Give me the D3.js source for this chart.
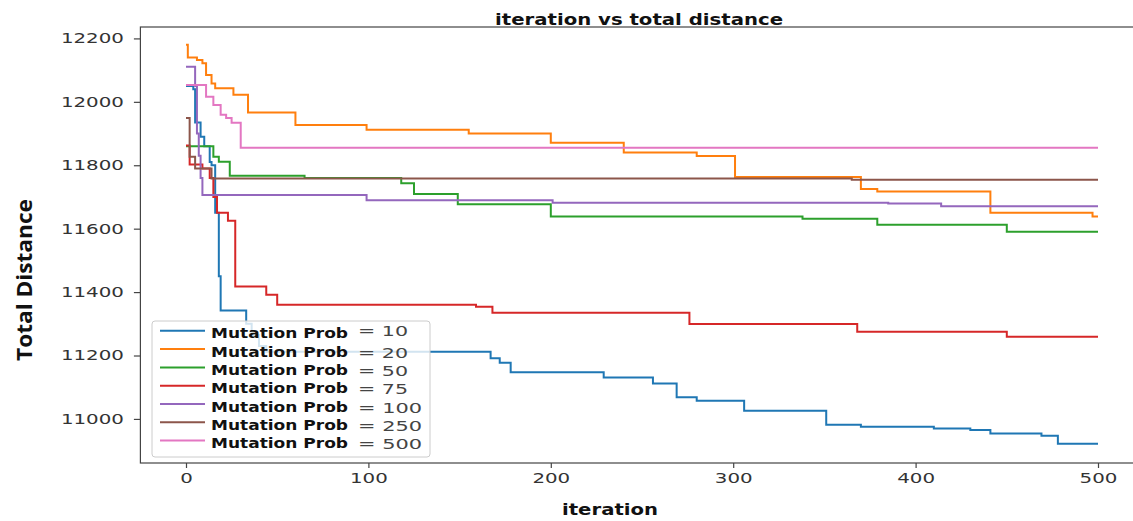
<!DOCTYPE html>
<html>
<head>
<meta charset="utf-8">
<script src="https://cdn.jsdelivr.net/npm/d3@7/dist/d3.min.js"></script>
<style>
  body { margin: 0; background: #fff; }
</style>
</head>
<body>
<svg id="chart" width="1133" height="521"></svg>
<script>
// series data: [iteration, best total distance]
const probs = ["10", "20", "50", "75", "100", "250", "500"];
const seriesColors = ["#1f77b4", "#ff7f0e", "#2ca02c", "#d62728", "#9467bd", "#8c564b", "#e377c2"];

const prob10 = [[0, 12050], [4, 12040], [5, 11935], [8, 11890], [10, 11860], [13, 11810], [14, 11800], [16, 11650],
  [18, 11450], [19, 11342], [33, 11300], [36, 11265], [40, 11230], [44, 11212], [167, 11191], [172, 11177],
  [178, 11147], [229, 11131], [256, 11112], [269, 11068], [280, 11057], [306, 11026], [351, 10982], [370, 10975],
  [410, 10970], [430, 10965], [441, 10954], [469, 10947], [478, 10922], [500, 10922]];
const prob20 = [[0, 12180], [1, 12140], [6, 12132], [9, 12122], [11, 12085], [14, 12058], [16, 12043], [26, 12022],
  [34, 11966], [60, 11927], [99, 11912], [155, 11900], [200, 11871], [240, 11840], [280, 11829], [301, 11763],
  [370, 11725], [379, 11717], [441, 11650], [497, 11638], [500, 11638]];
const prob50 = [[0, 11860], [15, 11827], [18, 11811], [24, 11767], [65, 11760], [118, 11743], [125, 11709],
  [149, 11677], [200, 11638], [338, 11631], [379, 11612], [450, 11590], [500, 11590]];
const prob75 = [[0, 11862], [2, 11802], [9, 11790], [13, 11760], [15, 11700], [17, 11650], [23, 11625], [27, 11418],
  [44, 11392], [50, 11360], [159, 11354], [168, 11335], [276, 11299], [368, 11275], [450, 11259], [500, 11259]];
const prob100 = [[0, 12111], [5, 12050], [6, 11900], [7, 11830], [8, 11760], [9, 11706], [99, 11690], [201, 11682],
  [385, 11679], [414, 11671], [500, 11671]];
const prob250 = [[0, 11949], [2, 11827], [5, 11790], [14, 11758], [365, 11754], [500, 11754]];
const prob500 = [[0, 12053], [11, 12016], [15, 11990], [19, 11959], [22, 11949], [25, 11934], [30, 11855], [500, 11855]];

const allSeries = [prob10, prob20, prob50, prob75, prob100, prob250, prob500];

const xTicks = [0, 100, 200, 300, 400, 500];
const yTicks = [11000, 11200, 11400, 11600, 11800, 12000, 12200];

const svg = d3.select("#chart");
const plot = { left: 140.4, right: 1143.6, top: 27, bottom: 463 };

const x = d3.scaleLinear().domain([-25, 525]).range([plot.left, plot.right]);
const y = d3.scaleLinear().domain([10861, 12236]).range([plot.bottom, plot.top]);

// lines
const line = d3.line()
  .x(d => x(d[0]))
  .y(d => y(d[1]))
  .curve(d3.curveStepAfter);

allSeries.forEach((s, i) => {
  svg.append("path")
    .datum(s)
    .attr("fill", "none")
    .attr("stroke", seriesColors[i])
    .attr("stroke-width", 2)
    .attr("d", line);
});

// axes
const yAxis = svg.append("g")
  .attr("transform", `translate(${plot.left},0)`)
  .call(d3.axisLeft(y).tickValues(yTicks).tickFormat(d3.format("d")).tickSize(6.5).tickPadding(10));

const xAxis = svg.append("g")
  .attr("transform", `translate(0,${plot.bottom})`)
  .call(d3.axisBottom(x).tickValues(xTicks).tickFormat(d3.format("d")).tickSize(5).tickPadding(5));

[xAxis, yAxis].forEach(g => {
  g.select(".domain").remove();
  g.selectAll(".tick line").attr("stroke", "#444").attr("stroke-width", 1.2);
  g.selectAll(".tick text")
    .attr("fill", "#333")
    .style("font-family", "'DejaVu Sans', sans-serif")
    .style("font-size", "14px")
    .attr("textLength", d => String(d).length * 12.6)
    .attr("lengthAdjust", "spacingAndGlyphs");
});

// frame
svg.append("rect")
  .attr("x", plot.left)
  .attr("y", plot.top)
  .attr("width", plot.right - plot.left)
  .attr("height", plot.bottom - plot.top)
  .attr("fill", "none")
  .attr("stroke", "#444")
  .attr("stroke-width", 1.2);

// legend
const legend = svg.append("g").attr("transform", "translate(152,321)");
legend.append("rect")
  .attr("width", 278)
  .attr("height", 136)
  .attr("rx", 3)
  .attr("fill", "#fff")
  .attr("fill-opacity", 0.8)
  .attr("stroke", "#ccc");

probs.forEach((p, i) => {
  const yy = 17.3 + i * 18.3;
  legend.append("line")
    .attr("x1", 8).attr("x2", 53)
    .attr("y1", yy - 7.5).attr("y2", yy - 7.5)
    .attr("stroke", seriesColors[i])
    .attr("stroke-width", 2);
  legend.append("text")
    .attr("x", 59).attr("y", yy)
    .style("font-family", "'DejaVu Sans', sans-serif")
    .style("font-size", "14px")
    .style("font-weight", "bold")
    .attr("fill", "#111")
    .attr("textLength", 137)
    .attr("lengthAdjust", "spacingAndGlyphs")
    .text("Mutation Prob");
  legend.append("text")
    .attr("x", 206).attr("y", yy + (i === 0 ? -2 : 1))
    .style("font-family", "'DejaVu Sans', sans-serif")
    .style("font-size", "14px")
    .attr("fill", "#444")
    .attr("textLength", 22 + p.length * 14)
    .attr("lengthAdjust", "spacingAndGlyphs")
    .text("= " + p);
});

// title and axis labels
svg.append("text")
  .attr("x", 639)
  .attr("y", 25)
  .attr("text-anchor", "middle")
  .style("font-family", "'DejaVu Sans', sans-serif")
  .style("font-size", "15px")
  .style("font-weight", "bold")
  .attr("fill", "#111")
  .attr("textLength", 288)
  .attr("lengthAdjust", "spacingAndGlyphs")
  .text("iteration vs total distance");

svg.append("text")
  .attr("x", 610)
  .attr("y", 515)
  .attr("text-anchor", "middle")
  .style("font-family", "'DejaVu Sans', sans-serif")
  .style("font-size", "15px")
  .style("font-weight", "bold")
  .attr("fill", "#111")
  .attr("textLength", 96)
  .attr("lengthAdjust", "spacingAndGlyphs")
  .text("iteration");

svg.append("text")
  .attr("transform", "translate(32,280) rotate(-90) scale(1,1.08)")
  .attr("text-anchor", "middle")
  .style("font-family", "'Open Sans', sans-serif")
  .style("font-size", "20px")
  .style("font-weight", "bold")
  .attr("fill", "#111")
  .attr("textLength", 162)
  .attr("lengthAdjust", "spacingAndGlyphs")
  .text("Total Distance");
</script>
</body>
</html>
